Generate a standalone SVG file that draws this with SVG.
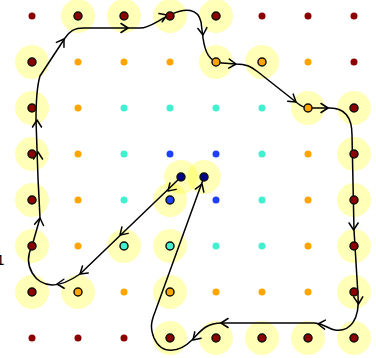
<svg xmlns="http://www.w3.org/2000/svg" xmlns:xlink="http://www.w3.org/1999/xlink" width="376" height="358" viewBox="0 0 376 358">
<style>
.halo{fill:#ffff00;fill-opacity:0.28;stroke:none}
.d{stroke:none}
.n{stroke:#111;stroke-width:1.5}
.R{fill:#8b0000}.O{fill:#ffa500}.C{fill:#40f0d0}.B{fill:#1f3fff}.N{fill:#00008b}
.conn{fill:none;stroke:#000;stroke-width:1.5;stroke-linecap:round;stroke-linejoin:round}
.lbl{font-family:"DejaVu Sans",sans-serif;font-size:14px;fill:#000}
</style>
<defs>
<path id="ah" d="M -7 -4.5 L 0 0 L -7 4.5" fill="none" stroke="#000" stroke-width="1.5" stroke-linecap="round" stroke-linejoin="round"/>
</defs>
<rect width="376" height="358" fill="#fff"/>
<text class="lbl" x="-4" y="265">1</text>
<g id="halos">
<circle class="halo" cx="78" cy="16" r="17"/><circle class="halo" cx="124" cy="16" r="17"/><circle class="halo" cx="170" cy="16" r="17"/><circle class="halo" cx="216" cy="16" r="17"/>
<circle class="halo" cx="32" cy="62" r="17"/><circle class="halo" cx="216" cy="62" r="17"/><circle class="halo" cx="262" cy="62" r="17"/>
<circle class="halo" cx="32" cy="108" r="17"/><circle class="halo" cx="308" cy="108" r="17"/><circle class="halo" cx="354" cy="108" r="17"/>
<circle class="halo" cx="32" cy="154" r="17"/><circle class="halo" cx="354" cy="154" r="17"/>
<circle class="halo" cx="32" cy="200" r="17"/><circle class="halo" cx="170" cy="200" r="17"/><circle class="halo" cx="354" cy="200" r="17"/>
<circle class="halo" cx="181" cy="177" r="17"/><circle class="halo" cx="204" cy="177" r="17"/>
<circle class="halo" cx="32" cy="246" r="17"/><circle class="halo" cx="124" cy="246" r="17"/><circle class="halo" cx="170" cy="246" r="17"/><circle class="halo" cx="354" cy="246" r="17"/>
<circle class="halo" cx="32" cy="292" r="17"/><circle class="halo" cx="78" cy="292" r="17"/><circle class="halo" cx="170" cy="292" r="17"/><circle class="halo" cx="354" cy="292" r="17"/>
<circle class="halo" cx="170" cy="338" r="17"/><circle class="halo" cx="216" cy="338" r="17"/><circle class="halo" cx="262" cy="338" r="17"/><circle class="halo" cx="308" cy="338" r="17"/><circle class="halo" cx="354" cy="338" r="17"/>
</g>
<g id="grid">
<circle class="d R" cx="32" cy="16" r="3.5"/><circle class="d R" cx="262" cy="16" r="3.5"/><circle class="d R" cx="308" cy="16" r="3.5"/><circle class="d R" cx="354" cy="16" r="3.5"/>
<circle class="d O" cx="78" cy="62" r="3.5"/><circle class="d O" cx="124" cy="62" r="3.5"/><circle class="d O" cx="170" cy="62" r="3.5"/><circle class="d O" cx="308" cy="62" r="3.5"/><circle class="d R" cx="354" cy="62" r="3.5"/>
<circle class="d O" cx="78" cy="108" r="3.5"/><circle class="d C" cx="124" cy="108" r="3.5"/><circle class="d C" cx="170" cy="108" r="3.5"/><circle class="d C" cx="216" cy="108" r="3.5"/><circle class="d C" cx="262" cy="108" r="3.5"/>
<circle class="d O" cx="78" cy="154" r="3.5"/><circle class="d C" cx="124" cy="154" r="3.5"/><circle class="d B" cx="170" cy="154" r="3.5"/><circle class="d B" cx="216" cy="154" r="3.5"/><circle class="d C" cx="262" cy="154" r="3.5"/><circle class="d O" cx="308" cy="154" r="3.5"/>
<circle class="d O" cx="78" cy="200" r="3.5"/><circle class="d C" cx="124" cy="200" r="3.5"/><circle class="d B" cx="216" cy="200" r="3.5"/><circle class="d C" cx="262" cy="200" r="3.5"/><circle class="d O" cx="308" cy="200" r="3.5"/>
<circle class="d O" cx="78" cy="246" r="3.5"/><circle class="d C" cx="216" cy="246" r="3.5"/><circle class="d C" cx="262" cy="246" r="3.5"/><circle class="d O" cx="308" cy="246" r="3.5"/>
<circle class="d O" cx="124" cy="292" r="3.5"/><circle class="d O" cx="216" cy="292" r="3.5"/><circle class="d O" cx="262" cy="292" r="3.5"/><circle class="d O" cx="308" cy="292" r="3.5"/>
<circle class="d R" cx="32" cy="338" r="3.5"/><circle class="d R" cx="78" cy="338" r="3.5"/><circle class="d R" cx="124" cy="338" r="3.5"/>
</g>
<g id="connectors">
<path class="conn" d="M 181 177 L 80 274 C 70 281 62 285 52 285 C 36 285 22 266 32 246 L 40 218 L 38 178 L 36 120 C 36 96 37 86 40 76 L 65 38 C 70 31 74 28 84 28 L 140 28 C 150 28 158 20 172 14 C 185 8 198 8 201 22 L 203 38 C 205 52 209 62 222 63 L 236 64 C 246 64 250 66 258 72 L 296 102 C 302 107 304 108 314 108 L 330 108 C 345 108 352 118 352 135 L 354 230 L 358 295 C 360 320 350 332 335 330 C 328 329 325 324 315 323 L 222 323 C 205 323 200 332 192 340 C 180 352 162 356 154 338 C 150 328 151 322 155 312 L 204 177"/>
<use xlink:href="#ah" transform="translate(168,191) rotate(136)"/>
<use xlink:href="#ah" transform="translate(120,235) rotate(136)"/>
<use xlink:href="#ah" transform="translate(80,274) rotate(140)"/>
<use xlink:href="#ah" transform="translate(57,284) rotate(178)"/>
<use xlink:href="#ah" transform="translate(40,218) rotate(-82)"/>
<use xlink:href="#ah" transform="translate(38,152) rotate(-90)"/>
<use xlink:href="#ah" transform="translate(37,120) rotate(-90)"/>
<use xlink:href="#ah" transform="translate(64,39) rotate(-57)"/>
<use xlink:href="#ah" transform="translate(128,28) rotate(0)"/>
<use xlink:href="#ah" transform="translate(167,15) rotate(-22)"/>
<use xlink:href="#ah" transform="translate(203,35) rotate(85)"/>
<use xlink:href="#ah" transform="translate(236,64) rotate(3)"/>
<use xlink:href="#ah" transform="translate(296,102) rotate(38)"/>
<use xlink:href="#ah" transform="translate(328,108) rotate(0)"/>
<use xlink:href="#ah" transform="translate(353.6,230) rotate(90)"/>
<use xlink:href="#ah" transform="translate(358.5,304) rotate(88)"/>
<use xlink:href="#ah" transform="translate(318,324) rotate(185)"/>
<use xlink:href="#ah" transform="translate(221,323) rotate(180)"/>
<use xlink:href="#ah" transform="translate(193,340) rotate(135)"/>
<use xlink:href="#ah" transform="translate(202,184) rotate(-70)"/>
</g>
<g id="n-0-1"><circle class="n R" cx="78" cy="16" r="4"/></g>
<g id="n-0-2"><circle class="n R" cx="124" cy="16" r="4"/></g>
<g id="n-0-3"><circle class="n R" cx="170" cy="16" r="4"/></g>
<g id="n-0-4"><circle class="n R" cx="216" cy="16" r="4"/></g>
<g id="n-1-0"><circle class="n R" cx="32" cy="62" r="4"/></g>
<g id="n-1-4"><circle class="n O" cx="216" cy="62" r="4"/></g>
<g id="n-1-5"><circle class="n O" cx="262" cy="62" r="4"/></g>
<g id="n-2-0"><circle class="n R" cx="32" cy="108" r="4"/></g>
<g id="n-2-6"><circle class="n O" cx="308" cy="108" r="4"/></g>
<g id="n-2-7"><circle class="n R" cx="354" cy="108" r="4"/></g>
<g id="n-3-0"><circle class="n R" cx="32" cy="154" r="4"/></g>
<g id="n-3-7"><circle class="n R" cx="354" cy="154" r="4"/></g>
<g id="n-4-0"><circle class="n R" cx="32" cy="200" r="4"/></g>
<g id="n-4-3"><circle class="n B" cx="170" cy="200" r="4"/></g>
<g id="n-4-7"><circle class="n R" cx="354" cy="200" r="4"/></g>
<g id="n-c1"><circle class="n N" cx="181" cy="177" r="4"/></g>
<g id="n-c2"><circle class="n N" cx="204" cy="177" r="4"/></g>
<g id="n-5-0"><circle class="n R" cx="32" cy="246" r="4"/></g>
<g id="n-5-2"><circle class="n C" cx="124" cy="246" r="4"/></g>
<g id="n-5-3"><circle class="n C" cx="170" cy="246" r="4"/></g>
<g id="n-5-7"><circle class="n R" cx="354" cy="246" r="4"/></g>
<g id="n-6-0"><circle class="n R" cx="32" cy="292" r="4"/></g>
<g id="n-6-1"><circle class="n O" cx="78" cy="292" r="4"/></g>
<g id="n-6-3"><circle class="n O" cx="170" cy="292" r="4"/></g>
<g id="n-6-7"><circle class="n R" cx="354" cy="292" r="4"/></g>
<g id="n-7-3"><circle class="n R" cx="170" cy="338" r="4"/></g>
<g id="n-7-4"><circle class="n R" cx="216" cy="338" r="4"/></g>
<g id="n-7-5"><circle class="n R" cx="262" cy="338" r="4"/></g>
<g id="n-7-6"><circle class="n R" cx="308" cy="338" r="4"/></g>
<g id="n-7-7"><circle class="n R" cx="354" cy="338" r="4"/></g>
</svg>
